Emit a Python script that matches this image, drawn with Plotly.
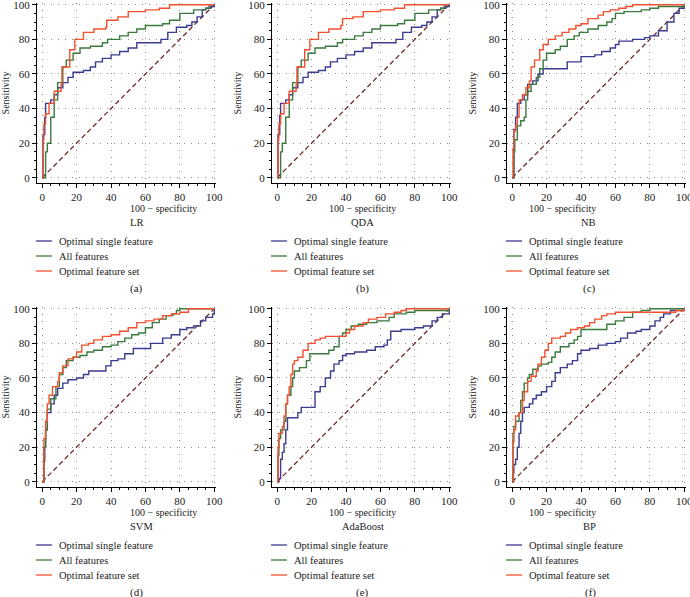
import plotly.graph_objects as go

# ---------------- data (100 - specificity, sensitivity) ----------------
models = ["LR", "QDA", "NB", "SVM", "AdaBoost", "BP"]
panel_tags = ["(a)", "(b)", "(c)", "(d)", "(e)", "(f)"]
series_names = ["Optimal single feature", "All features", "Optimal feature set"]

lr_single_x = [0, 0.5, 1.5, 2, 5, 7, 9, 12, 15, 18, 24, 28, 31, 35, 40, 45, 50, 55, 68, 69, 73, 78, 84, 87, 90, 93, 95, 98, 100]
lr_single_y = [0, 25, 35, 43, 45, 48, 52, 55, 58, 61, 62, 64, 67, 69, 71, 73, 75, 78, 78, 80, 84, 87, 88, 90, 93, 97, 98, 99, 100]
lr_all_x = [0, 2, 3, 5, 7, 9, 12, 14, 18, 22, 28, 35, 38, 45, 50, 55, 60, 70, 74, 80, 88, 95, 97, 100]
lr_all_y = [0, 15, 20, 35, 45, 55, 64, 68, 72, 75, 76, 78, 80, 82, 84, 86, 88, 89, 91, 95, 97, 98, 100, 100]
lr_opt_x = [0, 0.5, 1, 2, 4, 7, 11, 11.5, 16, 19, 24, 30, 37, 37.5, 44, 50, 60, 68, 74, 100]
lr_opt_y = [0, 22, 31, 37, 43, 50, 54, 64, 74, 80, 84, 86, 87, 91, 93, 96, 97, 98, 100, 100]

qda_single_x = [0, 0.5, 1.5, 2, 5, 7, 9, 12, 15, 18, 24, 28, 31, 35, 40, 45, 50, 55, 68, 69, 73, 78, 84, 87, 90, 93, 95, 98, 100]
qda_single_y = [0, 25, 36, 43, 45, 48, 52, 55, 58, 61, 62, 64, 67, 69, 71, 73, 75, 78, 78, 80, 84, 87, 88, 90, 93, 97, 98, 99, 100]
qda_all_x = [0, 2, 3, 5, 7, 9, 12, 14, 18, 22, 28, 35, 38, 45, 50, 55, 60, 70, 74, 80, 88, 95, 97, 100]
qda_all_y = [0, 15, 20, 35, 45, 55, 64, 68, 72, 75, 76, 78, 80, 82, 84, 86, 88, 89, 91, 95, 97, 98, 100, 100]
qda_opt_x = [0, 0.5, 1, 2, 4, 7, 11, 11.5, 16, 19, 24, 30, 37, 38, 44, 50, 60, 68, 74, 100]
qda_opt_y = [0, 22, 31, 37, 43, 50, 54, 64, 74, 80, 84, 86, 88, 92, 93, 96, 97, 98, 100, 100]

nb_single_x = [0, 1, 2, 3, 5, 7, 9, 12, 15, 18, 28, 32, 40, 48, 52, 57, 60, 62, 70, 77, 80, 85, 90, 94, 97, 100]
nb_single_y = [0, 28, 35, 43, 45, 48, 54, 56, 60, 63, 63, 67, 70, 71, 73, 75, 77, 79, 80, 81, 82, 85, 90, 95, 98, 100]
nb_all_x = [0, 1, 1.5, 3, 5, 7, 8, 9, 11, 14, 16, 18, 20, 25, 28, 32, 36, 39, 44, 50, 55, 58, 60, 65, 75, 80, 85, 97, 100]
nb_all_y = [0, 15, 22, 30, 33, 35, 45, 50, 54, 58, 63, 68, 72, 74, 76, 80, 82, 84, 86, 88, 90, 92, 95, 96, 97, 98, 99, 99, 100]
nb_opt_x = [0, 0.5, 1, 2, 3, 4, 6, 8, 10, 11, 13, 16, 18, 21, 25, 29, 33, 37, 40, 44, 50, 53, 57, 62, 66, 70, 100]
nb_opt_y = [0, 17, 27, 30, 35, 45, 48, 52, 56, 64, 68, 74, 77, 80, 82, 84, 86, 88, 89, 92, 94, 96, 97, 98, 99, 100, 100]

svm_single_x = [0, 1, 1.5, 2, 3, 5, 7, 9, 12, 15, 20, 24, 27, 34, 37, 40, 44, 48, 53, 58, 63, 70, 75, 80, 84, 88, 92, 95, 99, 100]
svm_single_y = [0, 12, 20, 30, 40, 45, 50, 54, 57, 59, 60, 62, 64, 64, 67, 70, 71, 74, 77, 77, 80, 83, 85, 88, 89, 90, 93, 95, 97, 100]
svm_all_x = [0, 1, 2, 3, 5, 8, 10, 12, 14, 18, 22, 26, 30, 35, 40, 44, 48, 52, 56, 60, 64, 68, 72, 76, 78, 80, 100]
svm_all_y = [0, 20, 30, 42, 48, 55, 62, 66, 70, 72, 73, 75, 76, 78, 79, 81, 83, 85, 86, 89, 92, 94, 96, 97, 99, 100, 100]
svm_opt_x = [0, 1, 2, 3, 4, 6, 9, 10, 12, 15, 18, 20, 23, 27, 30, 35, 40, 45, 50, 55, 60, 65, 70, 75, 80, 85, 100]
svm_opt_y = [0, 25, 35, 45, 50, 55, 58, 63, 67, 71, 72, 75, 79, 80, 82, 84, 85, 87, 89, 92, 93, 94, 96, 97, 98, 100, 100]

ada_single_x = [0, 1, 2, 3, 4, 5, 6, 10, 12, 14, 20, 22, 25, 28, 31, 33, 36, 38, 40, 45, 52, 57, 62, 64, 66, 72, 80, 85, 90, 93, 96, 100]
ada_single_y = [0, 2, 13, 17, 22, 30, 37, 37, 40, 43, 43, 52, 55, 60, 64, 68, 70, 73, 74, 75, 76, 78, 79, 82, 87, 88, 89, 90, 93, 95, 97, 100]
ada_all_x = [0, 0.5, 1, 2, 4, 5, 6, 8, 9, 10, 13, 17, 19, 27, 30, 33, 36, 38, 40, 43, 47, 52, 58, 65, 68, 75, 80, 95, 100]
ada_all_y = [0, 15, 25, 30, 35, 45, 50, 55, 60, 64, 66, 70, 74, 74, 76, 78, 84, 86, 88, 90, 91, 92, 93, 95, 97, 98, 99, 99, 100]
ada_opt_x = [0, 0.5, 1, 3, 4, 5, 6, 7, 8, 9, 10, 12, 15, 18, 22, 25, 28, 38, 40, 42, 45, 50, 53, 58, 63, 68, 72, 75, 100]
ada_opt_y = [0, 20, 28, 32, 38, 45, 50, 55, 62, 68, 70, 72, 76, 80, 82, 83, 84, 84, 86, 88, 90, 92, 94, 95, 97, 98, 99, 100, 100]

bp_single_x = [0, 0.5, 1, 2, 3, 4, 5, 6, 7, 10, 12, 14, 17, 20, 23, 25, 28, 32, 35, 38, 40, 45, 50, 55, 60, 63, 67, 72, 75, 80, 83, 86, 88, 92, 100]
bp_single_y = [0, 5, 10, 13, 20, 28, 35, 40, 43, 45, 48, 50, 52, 55, 58, 63, 66, 68, 70, 74, 76, 77, 79, 80, 81, 83, 86, 87, 88, 90, 93, 95, 97, 99, 100]
bp_all_x = [0, 0.5, 1, 2, 4, 5, 6, 7, 9, 10, 12, 15, 17, 21, 23, 25, 28, 33, 36, 38, 40, 53, 55, 60, 65, 70, 75, 80, 100]
bp_all_y = [0, 28, 32, 35, 40, 47, 52, 57, 60, 62, 65, 67, 68, 69, 72, 75, 78, 80, 82, 84, 88, 88, 91, 93, 95, 98, 99, 100, 100]
bp_opt_x = [0, 0.5, 1, 2, 4, 6, 7, 9, 11, 14, 15, 17, 19, 21, 23, 28, 31, 34, 38, 42, 45, 48, 52, 55, 60, 90, 95, 100]
bp_opt_y = [0, 23, 30, 38, 40, 47, 52, 58, 61, 64, 68, 72, 76, 80, 83, 84, 86, 88, 89, 90, 92, 94, 96, 97, 98, 98, 99, 100]

chance_x = [0, 100]
chance_y = [0, 100]

x_tick_vals = [0, 20, 40, 60, 80, 100]
y_tick_vals = [0, 20, 40, 60, 80, 100]

curves = [
    [(lr_single_x, lr_single_y), (lr_all_x, lr_all_y), (lr_opt_x, lr_opt_y)],
    [(qda_single_x, qda_single_y), (qda_all_x, qda_all_y), (qda_opt_x, qda_opt_y)],
    [(nb_single_x, nb_single_y), (nb_all_x, nb_all_y), (nb_opt_x, nb_opt_y)],
    [(svm_single_x, svm_single_y), (svm_all_x, svm_all_y), (svm_opt_x, svm_opt_y)],
    [(ada_single_x, ada_single_y), (ada_all_x, ada_all_y), (ada_opt_x, ada_opt_y)],
    [(bp_single_x, bp_single_y), (bp_all_x, bp_all_y), (bp_opt_x, bp_opt_y)],
]

# ---------------- styling ----------------
W, H = 690, 597
FONT = "Liberation Serif, Times New Roman, serif"
TXT = "#222222"
colors = ["#3b3b8f", "#3a7a3c", "#f2502e"]
chance_color = "#6e2b2b"

# pixel geometry of each panel axis box: (left, right), (top, bottom)
col_px = [(37, 216), (272, 451), (507, 686)]
row_px = [(3, 183), (307, 487)]

fig = go.Figure()
shapes = []
annotations = []

def py2p(py):
    return 1 - py / H

def px2p(px):
    return px / W

for i in range(6):
    r, c = divmod(i, 3)
    n = i + 1
    xa = "x" if n == 1 else f"x{n}"
    ya = "y" if n == 1 else f"y{n}"
    xk = "xaxis" if n == 1 else f"xaxis{n}"
    yk = "yaxis" if n == 1 else f"yaxis{n}"
    fig.add_trace(go.Scatter(x=chance_x, y=chance_y, mode="lines", xaxis=xa, yaxis=ya,
                             line=dict(color=chance_color, width=1.3, dash="5px,3px"),
                             showlegend=False, hoverinfo="skip"))
    for k in range(3):
        xs, ys = curves[i][k]
        fig.add_trace(go.Scatter(x=xs, y=ys, mode="lines", xaxis=xa, yaxis=ya,
                                 line=dict(color=colors[k], width=1.4, shape="hv"),
                                 name=series_names[k], showlegend=False))
    l, rr = col_px[c]
    t, b = row_px[r]
    axis_common = dict(
        range=[-3, 101], showline=True, linecolor="black", linewidth=1,
        ticks="outside", ticklen=4, tickcolor="black", tickwidth=1,
        showgrid=True, gridcolor="#8a8a8a", griddash="1px,6px",
        gridwidth=1, zeroline=False, mirror=False, automargin=False,
        ticklabeloverflow="allow",
        tickfont=dict(family=FONT, size=11, color=TXT),
        minor=dict(ticks="outside", ticklen=2, tickcolor="black", dtick=5, tick0=0, showgrid=False),
        fixedrange=True,
    )
    fig.update_layout(**{
        xk: dict(axis_common, domain=[px2p(l), px2p(rr)], anchor=ya, tickvals=x_tick_vals),
        yk: dict(axis_common, domain=[py2p(b), py2p(t)], anchor=xa, tickvals=y_tick_vals,
                 title=dict(text="Sensitivity", font=dict(family=FONT, size=10, color=TXT), standoff=4)),
    })
    cx = px2p((l + rr) / 2 + 1)
    annotations.append(dict(text="100 − specificity", x=cx, y=py2p(b + 25), xref="paper", yref="paper",
                            showarrow=False, font=dict(family=FONT, size=10, color=TXT), yanchor="middle"))
    annotations.append(dict(text=models[i], x=cx, y=py2p(b + 39), xref="paper", yref="paper",
                            showarrow=False, font=dict(family=FONT, size=10.5, color=TXT), yanchor="middle"))
    annotations.append(dict(text=panel_tags[i], x=cx, y=py2p(b + 105), xref="paper", yref="paper",
                            showarrow=False, font=dict(family=FONT, size=11, color=TXT), yanchor="middle"))
    for k in range(3):
        ly = b + 58 + 15 * k
        shapes.append(dict(type="line", xref="paper", yref="paper",
                           x0=px2p(l - 1), x1=px2p(l + 15), y0=py2p(ly), y1=py2p(ly),
                           line=dict(color=colors[k], width=1.3)))
        annotations.append(dict(text=series_names[k], x=px2p(l + 20), y=py2p(ly), xref="paper", yref="paper",
                                xanchor="left", yanchor="middle", showarrow=False,
                                font=dict(family=FONT, size=10.5, color=TXT)))

fig.update_layout(
    width=W, height=H, margin=dict(l=0, r=0, t=0, b=0, autoexpand=False),
    paper_bgcolor="white", plot_bgcolor="white",
    shapes=shapes, annotations=annotations, showlegend=False,
)

fig.write_html("out.html", config={"displayModeBar": False},
               post_script="document.body.style.margin='0';document.body.style.overflow='hidden';")
